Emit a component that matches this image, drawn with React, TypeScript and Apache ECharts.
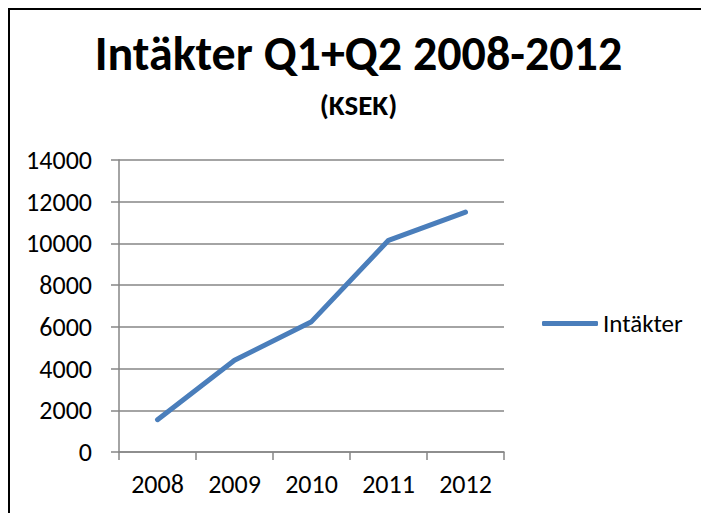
import React, { useEffect, useRef } from "react";
import * as echarts from "echarts";

const years = ["2008", "2009", "2010", "2011", "2012"];
const intakter = [1550, 4400, 6250, 10150, 11500];
const titleText = "Intäkter Q1+Q2 2008-2012";
const subtitleText = "(KSEK)";
const seriesName = "Intäkter";

const FONT = "Carlito, Lato, sans-serif";

export default function App() {
  const ref = useRef<HTMLDivElement>(null);
  useEffect(() => {
    if (!ref.current) return;
    const chart = echarts.init(ref.current, undefined, { renderer: "svg" });
    chart.setOption({
      animation: false,
      backgroundColor: "#ffffff",
      textStyle: { fontFamily: FONT },
      title: [
        {
          text: titleText,
          left: "center",
          top: 21,
          padding: 0,
          textStyle: { fontFamily: FONT, fontSize: 48, fontWeight: "bold", color: "#000" },
        },
        {
          text: subtitleText,
          left: "center",
          top: 82,
          padding: 0,
          textStyle: { fontFamily: FONT, fontSize: 29, fontWeight: "bold", color: "#000" },
        },
      ],
      legend: {
        data: [seriesName],
        left: 534,
        top: 303,
        padding: 0,
        icon: "roundRect",
        itemWidth: 56,
        itemHeight: 5,
        itemGap: 4,
        textStyle: { fontFamily: FONT, fontSize: 25, color: "#000", padding: [0, 0, 0, 0] },
      },
      grid: { left: 111, right: 205, top: 152, bottom: 61, containLabel: false },
      xAxis: {
        type: "category",
        data: years,
        boundaryGap: true,
        axisLine: { show: true, lineStyle: { color: "#868686", width: 1.5 } },
        axisTick: { show: true, length: 8, alignWithLabel: false, lineStyle: { color: "#868686", width: 1.5 } },
        axisLabel: { fontFamily: FONT, fontSize: 26, color: "#000", margin: 19 },
        splitLine: { show: false },
      },
      yAxis: {
        type: "value",
        min: 0,
        max: 14000,
        interval: 2000,
        axisLine: { show: true, lineStyle: { color: "#868686", width: 1.5 } },
        axisTick: { show: true, length: 8, lineStyle: { color: "#868686", width: 1.5 } },
        axisLabel: {
          fontFamily: FONT,
          fontSize: 26,
          color: "#000",
          margin: 27,
          formatter: (v: number) => String(v),
        },
        splitLine: { show: true, lineStyle: { color: "#868686", width: 1.5 } },
      },
      series: [
        {
          name: seriesName,
          type: "line",
          data: intakter,
          symbol: "none",
          lineStyle: { color: "#4A7EBB", width: 5, cap: "round", join: "round" },
          itemStyle: { color: "#4A7EBB" },
        },
      ],
      graphic: [
        {
          type: "rect",
          shape: { x: 1, y: 1, width: 2000, height: 2000 },
          style: { fill: "none", stroke: "#000", lineWidth: 2 },
          silent: true,
        },
      ],
    });
    return () => chart.dispose();
  }, []);
  return <div ref={ref} style={{ width: 701, height: 505 }} />;
}
